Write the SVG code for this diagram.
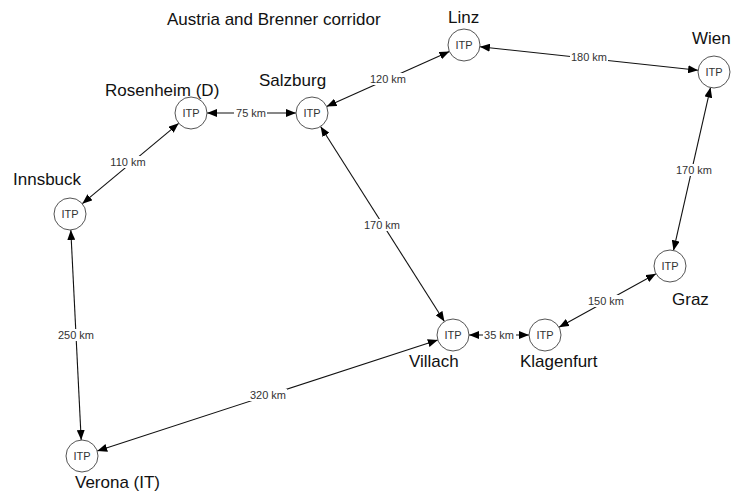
<svg xmlns="http://www.w3.org/2000/svg" width="732" height="493" viewBox="0 0 732 493">
<style>
.node circle{fill:#fff;stroke:#555;stroke-width:1}
.itp{font-family:"Liberation Sans",Arial,sans-serif;font-size:11px;fill:#333;text-anchor:middle}
.city{font-family:"Liberation Sans",Arial,sans-serif;font-size:17px;fill:#111}
.edge{stroke:#111;stroke-width:1.1;fill:none;marker-start:url(#ah);marker-end:url(#ah)}
.lbl{font-family:"Liberation Sans",Arial,sans-serif;font-size:11px;fill:#333;text-anchor:middle}
.bg{fill:#fff}
</style>
<defs>
<marker id="ah" viewBox="0 0 10 8" refX="10" refY="4" markerWidth="10" markerHeight="8" markerUnits="userSpaceOnUse" orient="auto-start-reverse">
<path d="M0,0 L10,4 L0,8 Z" fill="#000"/>
</marker>
</defs>
<rect width="732" height="493" fill="#fff"/>
<text class="city" x="167" y="25">Austria and Brenner corridor</text>
<g id="connectors">
<line class="edge" x1="207" y1="113" x2="296" y2="113"/>
<line class="edge" x1="178.7" y1="123.3" x2="82.3" y2="203.7"/>
<line class="edge" x1="326.6" y1="106.5" x2="449.4" y2="51.5"/>
<line class="edge" x1="479.9" y1="46.7" x2="698.1" y2="70.3"/>
<line class="edge" x1="710.5" y1="87.6" x2="673.5" y2="250.4"/>
<line class="edge" x1="656" y1="273.7" x2="559" y2="327.3"/>
<line class="edge" x1="529" y1="335" x2="469" y2="335"/>
<line class="edge" x1="444.4" y1="321.5" x2="320.6" y2="126.5"/>
<line class="edge" x1="437.8" y1="340" x2="97.2" y2="451"/>
<line class="edge" x1="70.8" y1="230" x2="81.2" y2="440"/>
<g id="edge-labels">
<rect class="bg" x="234" y="107" width="33" height="12"/><text class="lbl" x="251" y="117">75 km</text>
<rect class="bg" x="109" y="156" width="38" height="12"/><text class="lbl" x="128" y="166">110 km</text>
<rect class="bg" x="369" y="73" width="38" height="12"/><text class="lbl" x="388" y="83">120 km</text>
<rect class="bg" x="570" y="51" width="38" height="12"/><text class="lbl" x="589" y="61">180 km</text>
<rect class="bg" x="675" y="164" width="38" height="12"/><text class="lbl" x="694" y="174">170 km</text>
<rect class="bg" x="587" y="295" width="38" height="12"/><text class="lbl" x="606" y="305">150 km</text>
<rect class="bg" x="483" y="329" width="33" height="12"/><text class="lbl" x="499" y="339">35 km</text>
<rect class="bg" x="363" y="219" width="38" height="12"/><text class="lbl" x="382" y="229">170 km</text>
<rect class="bg" x="249" y="389" width="38" height="12"/><text class="lbl" x="268" y="399">320 km</text>
<rect class="bg" x="57" y="329" width="38" height="12"/><text class="lbl" x="76" y="339">250 km</text>
</g>
</g>
<g id="rosenheim" class="node"><circle cx="191" cy="113" r="16"/><text class="itp" x="191" y="117">ITP</text><text class="city" x="105" y="96">Rosenheim (D)</text></g>
<g id="salzburg" class="node"><circle cx="312" cy="113" r="16"/><text class="itp" x="312" y="117">ITP</text><text class="city" x="259" y="86">Salzburg</text></g>
<g id="innsbuck" class="node"><circle cx="70" cy="214" r="16"/><text class="itp" x="70" y="218">ITP</text><text class="city" x="13" y="185">Innsbuck</text></g>
<g id="linz" class="node"><circle cx="464" cy="45" r="16"/><text class="itp" x="464" y="49">ITP</text><text class="city" x="448" y="23">Linz</text></g>
<g id="wien" class="node"><circle cx="714" cy="72" r="16"/><text class="itp" x="714" y="76">ITP</text><text class="city" x="692" y="44">Wien</text></g>
<g id="graz" class="node"><circle cx="670" cy="266" r="16"/><text class="itp" x="670" y="270">ITP</text><text class="city" x="672" y="305">Graz</text></g>
<g id="klagenfurt" class="node"><circle cx="545" cy="335" r="16"/><text class="itp" x="545" y="339">ITP</text><text class="city" x="520" y="367">Klagenfurt</text></g>
<g id="villach" class="node"><circle cx="453" cy="335" r="16"/><text class="itp" x="453" y="339">ITP</text><text class="city" x="409" y="367">Villach</text></g>
<g id="verona" class="node"><circle cx="82" cy="456" r="16"/><text class="itp" x="82" y="460">ITP</text><text class="city" x="75" y="488">Verona (IT)</text></g>
</svg>
